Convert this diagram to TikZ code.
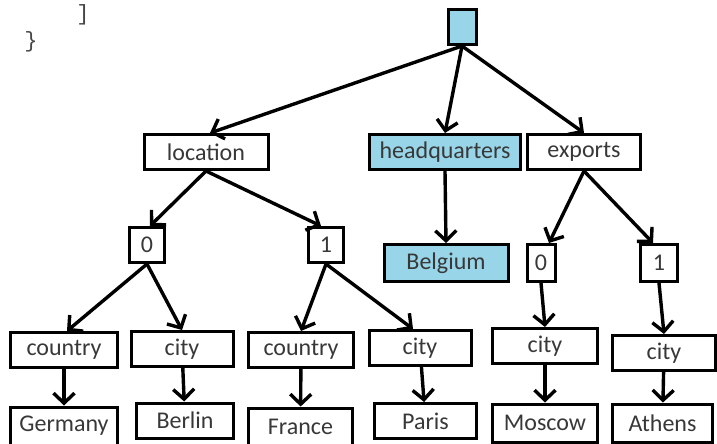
\documentclass[tikz,border=0pt]{standalone}
\usepackage{fontspec}
\setmainfont{Carlito}
\newfontfamily\codefont{Liberation Mono}
\usetikzlibrary{arrows.meta}
\definecolor{keyblue}{RGB}{152,213,232}
\definecolor{codegray}{RGB}{70,70,70}

\begin{document}
\begin{tikzpicture}[
  x=1pt, y=-1pt,
  box/.style={draw, line width=3pt, minimum height=35pt, inner sep=2pt,
              font=\fontsize{24}{28}\selectfont, text=black!78},
  bbox/.style={box, fill=keyblue},
  arr/.style={-{Straight Barb[length=10pt, width=21pt]}, line width=3.4pt},
  code/.style={font=\codefont\fontsize{22}{26}\selectfont, text=codegray},
]
  \useasboundingbox (0,0) rectangle (717,444);

  %% ── JSON fragment (top left) ──
  \node[code, anchor=north, inner sep=1pt] (brk) at (83, 3) {]};
  \node[code] (brace) at (31, 42) {\}};

  %% Row 0: root object
  \node[bbox, minimum width=28pt, minimum height=35pt] (root) at (462, 27) {};

  %% Row 1: keys
  \node[box,  minimum width=124pt] (location) at (206, 152) {location};
  \node[bbox, minimum width=151pt] (hq)       at (445, 152) {headquarters};
  \node[box,  minimum width=113pt] (exports)  at (584, 152) {exports};

  %% Row 2: indices / value
  \node[box,  minimum width=35pt] (loczero) at (147, 245) {0};
  \node[box,  minimum width=35pt] (locone)  at (326, 245) {1};
  \node[bbox, minimum width=124pt, minimum height=37pt] (belgium) at (446, 263) {Belgium};
  \node[box,  minimum width=28pt, minimum height=37pt] (expzero) at (541, 263) {0};
  \node[box,  minimum width=37pt, minimum height=37pt] (expone)  at (659, 263) {1};

  %% Row 3: inner keys
  \node[box, minimum width=107pt] (countryA) at (64, 350)  {country};
  \node[box, minimum width=102pt] (cityA)    at (182, 349) {city};
  \node[box, minimum width=105pt] (countryB) at (301, 350) {country};
  \node[box, minimum width=102pt] (cityB)    at (420, 348) {city};
  \node[box, minimum width=105pt] (cityC)    at (545, 346) {city};
  \node[box, minimum width=103pt] (cityD)    at (664, 353) {city};

  %% Row 4: leaf values
  \node[box, minimum width=107pt, minimum height=38pt] (germany) at (64, 426)    {Germany};
  \node[box, minimum width=97pt]  (berlin)  at (185, 420.5) {Berlin};
  \node[box, minimum width=104pt, minimum height=38pt] (france)  at (300.5, 427) {France};
  \node[box, minimum width=102pt] (paris)   at (425.5, 421) {Paris};
  \node[box, minimum width=105pt, minimum height=38pt] (moscow)  at (545, 423)   {Moscow};
  \node[box, minimum width=100pt, minimum height=38pt] (athens)  at (662.5, 423) {Athens};

  %% ═══ EDGES ═══
  \draw[arr] (root.south) -- ([xshift=4pt]location.north);
  \draw[arr] (root.south) -- (hq.north);
  \draw[arr] (root.south) -- (exports.north);

  \draw[arr] (location.south) -- ([xshift=3pt]loczero.north);
  \draw[arr] (location.south) -- ([xshift=-5pt]locone.north);
  \draw[arr] (hq.south) -- (belgium.north);
  \draw[arr] (exports.south) -- ([xshift=8pt]expzero.north);
  \draw[arr] (exports.south) -- ([xshift=-6pt]expone.north);

  \draw[arr] (loczero.south) -- ([xshift=3pt]countryA.north);
  \draw[arr] (loczero.south) -- (cityA.north);
  \draw[arr] (locone.south) -- (countryB.north);
  \draw[arr] (locone.south) -- ([xshift=-7pt]cityB.north);
  \draw[arr] (expzero.south) -- (cityC.north);
  \draw[arr] (expone.south) -- (cityD.north);

  %% Row 3 → Row 4
  \draw[arr] (countryA) -- (germany);
  \draw[arr] (cityA) -- (berlin);
  \draw[arr] (countryB) -- (france);
  \draw[arr] (cityB) -- (paris);
  \draw[arr] (cityC) -- (moscow);
  \draw[arr] (cityD) -- (athens);
\end{tikzpicture}
\end{document}
